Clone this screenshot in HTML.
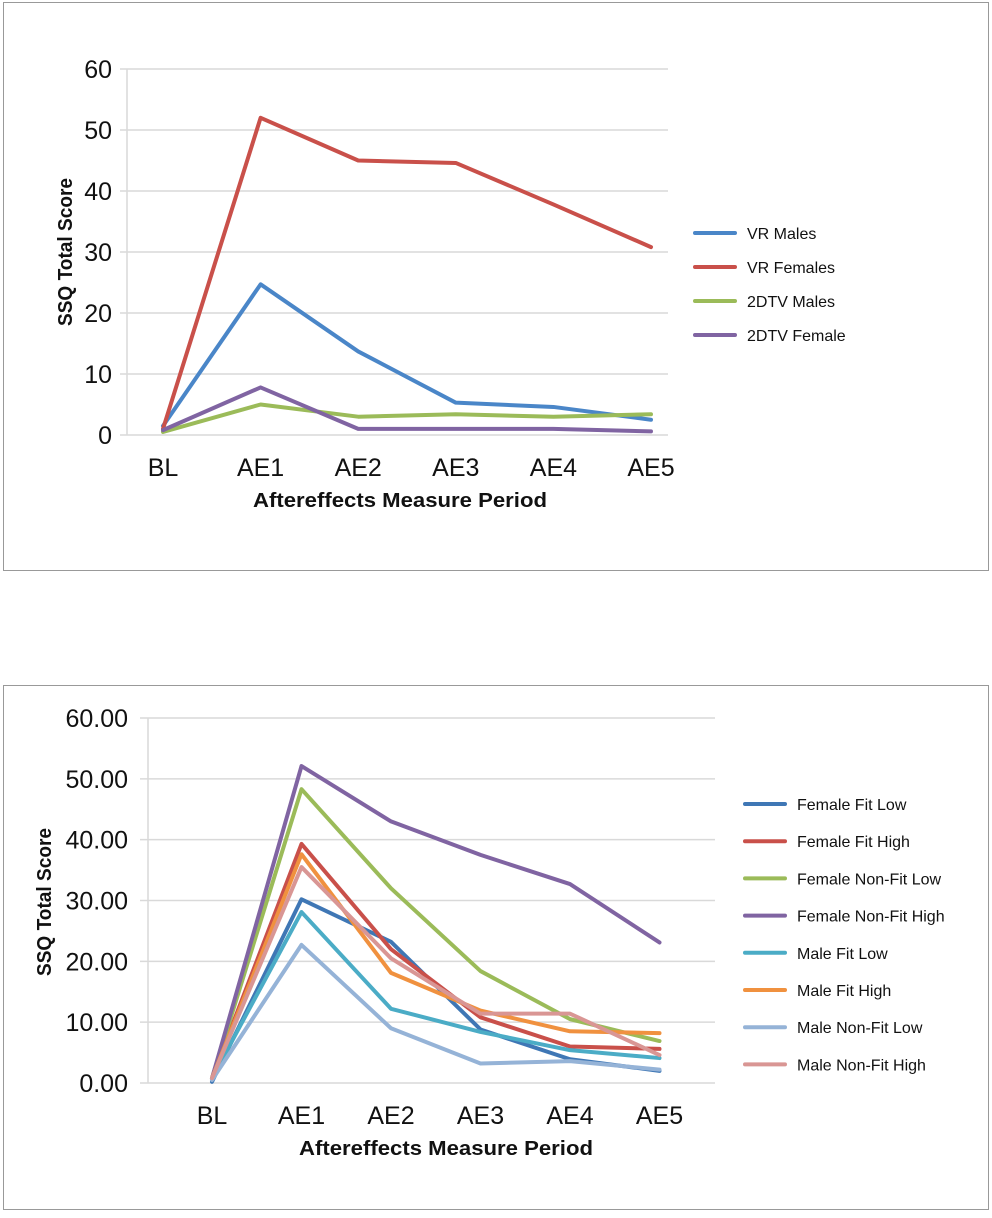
<!DOCTYPE html>
<html><head><meta charset="utf-8"><style>
body{margin:0;background:#fff;width:992px;height:1213px;overflow:hidden;font-family:"Liberation Sans Narrow","Liberation Sans",sans-serif}
</style></head><body>
<svg id="svg" width="992" height="1213" xmlns="http://www.w3.org/2000/svg">
<rect x="3.5" y="2.5" width="985" height="568" fill="#fff" stroke="#999"/>
<rect x="3.5" y="685.5" width="985" height="524" fill="#fff" stroke="#999"/>
<g id="c1"></g>
<g id="c2"></g>
</svg>
<script>
const categories = ["BL","AE1","AE2","AE3","AE4","AE5"];
const topTicks = ["0","10","20","30","40","50","60"];
const topNames = ["VR Males","VR Females","2DTV Males","2DTV Female"];
const vrMales = [1.5,24.7,13.7,5.3,4.6,2.5];
const vrFemales = [1,52,45,44.6,37.8,30.8];
const tvMales = [0.5,5,3,3.4,3,3.4];
const tvFemale = [0.8,7.8,1,1,1,0.6];
const botTicks = ["0.00","10.00","20.00","30.00","40.00","50.00","60.00"];
const botNames = ["Female Fit Low","Female Fit High","Female Non-Fit Low","Female Non-Fit High","Male Fit Low","Male Fit High","Male Non-Fit Low","Male Non-Fit High"];
const femaleFitLow = [0.2,30.2,23.2,8.8,3.9,2.0];
const femaleFitHigh = [0.8,39.3,22.0,10.8,6.0,5.6];
const femaleNonFitLow = [0.8,48.3,32,18.4,10.5,6.9];
const femaleNonFitHigh = [0.8,52.1,43,37.5,32.7,23.1];
const maleFitLow = [0.8,28.1,12.2,8.4,5.4,4.1];
const maleFitHigh = [0.8,37.6,18.1,11.9,8.5,8.2];
const maleNonFitLow = [0.5,22.7,9,3.2,3.6,2.2];
const maleNonFitHigh = [0.8,35.5,20.5,11.4,11.4,4.6];

const NS="http://www.w3.org/2000/svg";
function mk(parent,tag,attrs,text){const e=document.createElementNS(NS,tag);for(const k in attrs)e.setAttribute(k,attrs[k]);if(text!==undefined)e.textContent=text;parent.appendChild(e);return e;}

function chart(g,cfg){
  const y=v=>cfg.y0-(v/60)*(cfg.y0-cfg.y60);
  const x=i=>cfg.x0+i*cfg.dx;
  cfg.ticks.forEach((t,i)=>{
    const v=i*10;
    const l=mk(g,"line",{x1:cfg.gx0,x2:cfg.gx1,y1:y(v),y2:y(v),stroke:"#d9d9d9","stroke-width":1.5});
    
    
    const tx=mk(g,"text",{x:cfg.tickX,y:y(v)+9,"text-anchor":"end","font-size":25,fill:"#111"},t);
    
    
  });
  const ax=mk(g,"line",{x1:cfg.axX,x2:cfg.axX,y1:cfg.y60,y2:cfg.y0,stroke:"#d9d9d9","stroke-width":1.5});
  
  
  categories.forEach((c,i)=>{
    const t=mk(g,"text",{x:x(i),y:cfg.y0+41,"text-anchor":"middle","font-size":25,fill:"#111"},c);
    
    
  });
  cfg.series.forEach((s,k)=>{
    const p=mk(g,"polyline",{points:s.map((v,i)=>x(i)+","+y(v)).join(" "),fill:"none",stroke:cfg.colors[k],"stroke-width":4,"stroke-linejoin":"round","stroke-linecap":"round"});
    
    
    const ly=cfg.legY+k*cfg.legDy;
    const ll=mk(g,"line",{x1:cfg.legX,x2:cfg.legX+40,y1:ly,y2:ly,stroke:cfg.colors[k],"stroke-width":4,"stroke-linecap":"round"});
    
    
    const lt=mk(g,"text",{x:cfg.legX+52,y:ly+6,"font-size":16,fill:"#111"},cfg.names[k]);
    
    
  });
  const xt=mk(g,"text",{x:cfg.xtX,y:cfg.y0+72,"text-anchor":"middle","font-size":20,"font-weight":"bold",fill:"#111",textLength:cfg.xtW,lengthAdjust:"spacingAndGlyphs"},"Aftereffects Measure Period");
  
  
  const yt=mk(g,"text",{x:0,y:0,"text-anchor":"middle","font-size":20,"font-weight":"bold",fill:"#111",transform:"translate("+cfg.ytX+","+cfg.ytY+") rotate(-90)",textLength:148,lengthAdjust:"spacingAndGlyphs"},"SSQ Total Score");
  
  
}
chart(document.getElementById('c1'),{y0:435,y60:69,x0:163,dx:97.6,gx0:120,gx1:668,axX:127,tickX:112,ticks:topTicks,
  series:[vrMales,vrFemales,tvMales,tvFemale],names:topNames,colors:["#4a86c8","#c9504a","#9bbb59","#8064a2"],
  legX:695,legY:233,legDy:34,xtX:400,xtW:294,ytX:72,ytY:252});
chart(document.getElementById('c2'),{y0:1083,y60:718,x0:212,dx:89.5,gx0:140,gx1:715,axX:148,tickX:128,ticks:botTicks,
  series:[femaleFitLow,femaleFitHigh,femaleNonFitLow,femaleNonFitHigh,maleFitLow,maleFitHigh,maleNonFitLow,maleNonFitHigh],names:botNames,
  colors:["#3f77b5","#c9504a","#9bbb59","#8064a2","#4bacc6","#f0913f","#95b3d7","#d99694"],
  legX:745,legY:804,legDy:37.2,xtX:446,xtW:294,ytX:51,ytY:902});
</script>
</body></html>
